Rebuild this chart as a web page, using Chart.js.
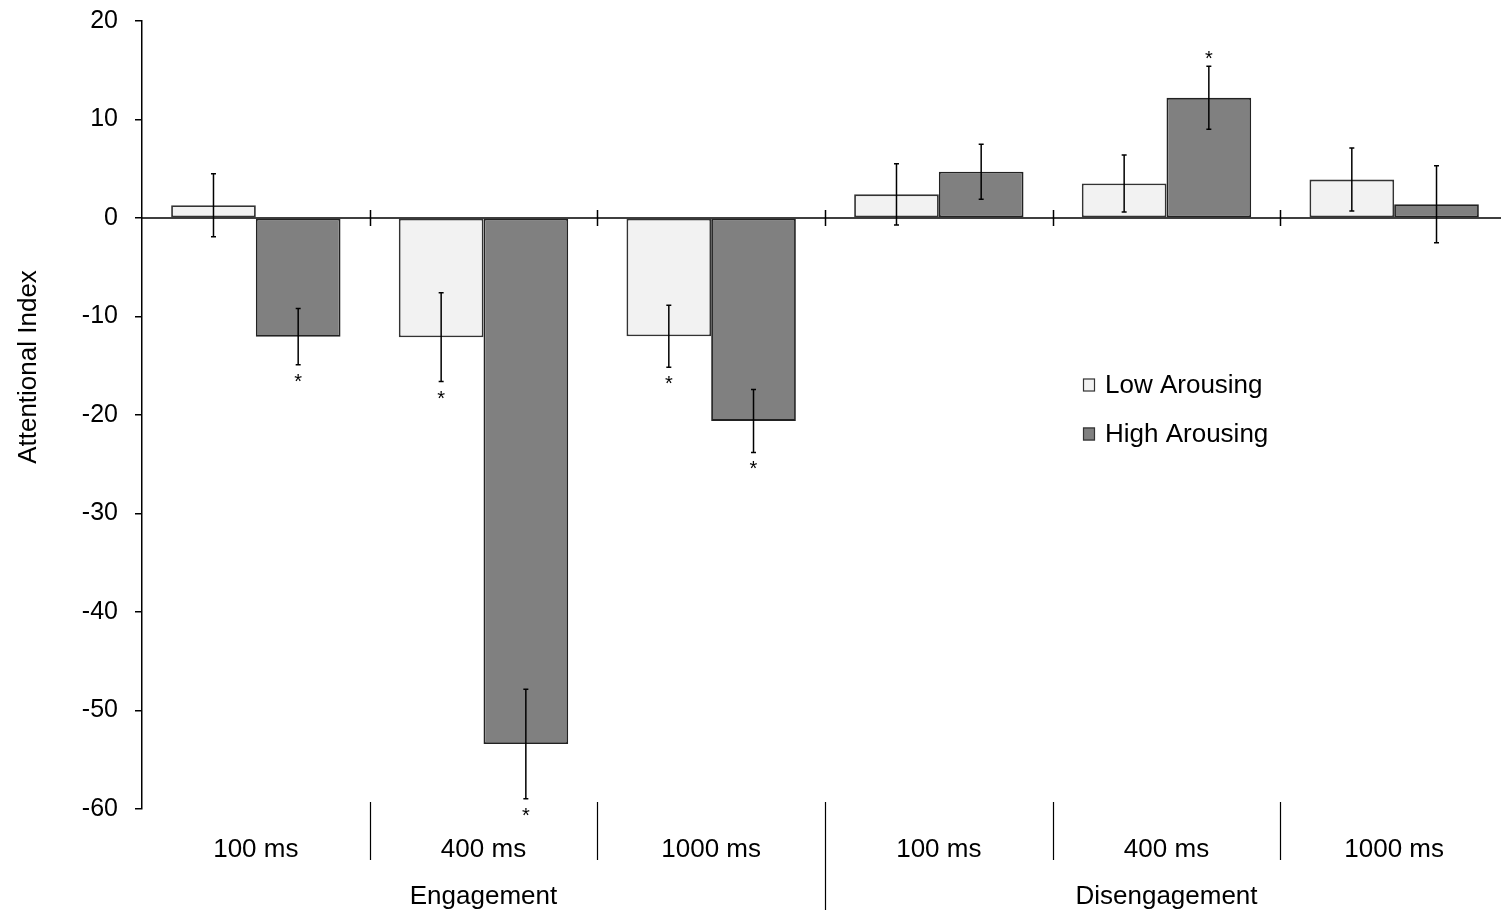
<!DOCTYPE html>
<html>
<head>
<meta charset="utf-8">
<title>Attentional Index</title>
<script src="https://cdn.jsdelivr.net/npm/chart.js@4/dist/chart.umd.min.js"></script>
<style>
    html, body { margin: 0; padding: 0; background: #fff; overflow: hidden; }
    canvas { display: block; }
</style>
</head>
<body>
<canvas id="attentionChart" width="1510" height="914"></canvas>
<script>
// Data
const soaLabels = ['100 ms', '400 ms', '1000 ms', '100 ms', '400 ms', '1000 ms'];
const sectionLabels = ['Engagement', 'Disengagement'];
const yTicks = [20, 10, 0, -10, -20, -30, -40, -50, -60];

const lowArousing = [1.3, -12.1, -12.0, 2.4, 3.5, 3.9];
const lowArousingErr = [3.2, 4.5, 3.15, 3.1, 2.9, 3.2];
const lowArousingSig = [false, true, true, false, false, false];

const highArousing = [-12.05, -53.4, -20.6, 4.7, 12.2, 1.4];
const highArousingErr = [2.85, 5.55, 3.2, 2.8, 3.2, 3.9];
const highArousingSig = [true, true, true, false, true, false];

const FONT = '"Liberation Sans", Arial, sans-serif';

const errors = [lowArousingErr, highArousingErr];
const signif = [lowArousingSig, highArousingSig];

// error bars + significance stars
const errorBarPlugin = {
    id: 'errorBars',
    afterDatasetsDraw(chart) {
        const { ctx, scales: { y } } = chart;
        ctx.save();
        chart.data.datasets.forEach((ds, di) => {
            const meta = chart.getDatasetMeta(di);
            meta.data.forEach((bar, i) => {
                const v = ds.data[i];
                const e = errors[di][i];
                const yTop = y.getPixelForValue(v + e);
                const yBot = y.getPixelForValue(v - e);
                ctx.strokeStyle = '#000';
                ctx.lineWidth = 1.5;
                ctx.beginPath();
                ctx.moveTo(bar.x, yTop);
                ctx.lineTo(bar.x, yBot);
                ctx.moveTo(bar.x - 2.5, yTop);
                ctx.lineTo(bar.x + 2.5, yTop);
                ctx.moveTo(bar.x - 2.5, yBot);
                ctx.lineTo(bar.x + 2.5, yBot);
                ctx.stroke();

                if (signif[di][i]) {
                    // the asterisk glyph sits ~11px above the baseline at 20px
                    ctx.fillStyle = '#000';
                    ctx.font = '20px ' + FONT;
                    ctx.textAlign = 'center';
                    ctx.textBaseline = 'alphabetic';
                    const sy = v < 0 ? yBot + 12 : yTop - 12;
                    ctx.fillText('*', bar.x, sy + 11);
                }
            });
        });
        ctx.restore();
    }
};

// zero line, category dividers, section labels, axis title, legend
const decorPlugin = {
    id: 'decor',
    afterDatasetsDraw(chart) {
        const { ctx, chartArea, scales: { y } } = chart;
        const y0 = y.getPixelForValue(0);
        const n = soaLabels.length;
        const step = (chartArea.right - chartArea.left) / n;

        ctx.save();
        ctx.strokeStyle = '#000';
        ctx.lineWidth = 1.5;
        ctx.beginPath();
        ctx.moveTo(chartArea.left, y0);
        ctx.lineTo(chartArea.right + 10, y0);
        for (let i = 1; i < n; i++) {
            const bx = Math.round(chartArea.left + step * i) + 0.5;
            ctx.moveTo(bx, y0 - 8);
            ctx.lineTo(bx, y0 + 8);
        }
        ctx.stroke();

        // dividers under the axis labels
        ctx.lineWidth = 1.2;
        ctx.beginPath();
        for (let i = 1; i < n; i++) {
            const bx = Math.round(chartArea.left + step * i) + 0.5;
            ctx.moveTo(bx, chartArea.bottom - 7);
            ctx.lineTo(bx, i === n / 2 ? 910 : 860);
        }
        ctx.stroke();

        ctx.fillStyle = '#000';
        ctx.font = '26px ' + FONT;
        ctx.textAlign = 'center';
        ctx.textBaseline = 'middle';
        sectionLabels.forEach((lbl, s) => {
            const cx = chartArea.left + step * (n / 2) * (s + 0.5);
            ctx.fillText(lbl, cx, 897);
        });

        // y axis title
        ctx.save();
        ctx.translate(29, 367);
        ctx.rotate(-Math.PI / 2);
        ctx.fillText('Attentional Index', 0, 0);
        ctx.restore();

        // legend
        ctx.textAlign = 'left';
        chart.data.datasets.forEach((ds, i) => {
            const ly = 385 + i * 49;
            ctx.fillStyle = ds.backgroundColor;
            ctx.fillRect(1083, ly - 6.5, 12, 13);
            ctx.strokeStyle = '#333';
            ctx.lineWidth = 1.2;
            ctx.strokeRect(1083.5, ly - 6, 11, 12);
            ctx.fillStyle = '#000';
            ctx.fillText(ds.label, 1105, ly + 1);
        });
        ctx.restore();
    }
};

new Chart(document.getElementById('attentionChart'), {
    type: 'bar',
    data: {
        labels: soaLabels,
        datasets: [
            {
                label: 'Low Arousing',
                data: lowArousing,
                backgroundColor: '#F2F2F2',
                borderColor: '#333333',
                borderWidth: 1.8,
                borderSkipped: false
            },
            {
                label: 'High Arousing',
                data: highArousing,
                backgroundColor: '#808080',
                borderColor: '#222222',
                borderWidth: 1.8,
                borderSkipped: false
            }
        ]
    },
    options: {
        responsive: false,
        animation: false,
        devicePixelRatio: 1,
        layout: { padding: { top: 21, right: 2, left: 0, bottom: 0 } },
        datasets: { bar: { categoryPercentage: 0.744, barPercentage: 1 } },
        plugins: {
            legend: { display: false },
            tooltip: { enabled: false }
        },
        scales: {
            x: {
                grid: { display: false, drawTicks: false },
                border: { display: false },
                ticks: {
                    color: '#000',
                    padding: 25,
                    maxRotation: 0,
                    font: { family: FONT, size: 26 }
                },
                afterFit(scale) { scale.height = 105; }
            },
            y: {
                min: -60,
                max: 20,
                afterBuildTicks(scale) { scale.ticks = yTicks.map(v => ({ value: v })); },
                grid: { drawOnChartArea: false, drawTicks: true, tickLength: 7, color: '#000', lineWidth: 1.5 },
                border: { display: true, color: '#000', width: 1.5 },
                ticks: {
                    color: '#000',
                    padding: 17,
                    font: { family: FONT, size: 25 }
                },
                afterFit(scale) {
                    scale.width = 142;
                    scale.paddingTop = 0;
                    scale.paddingBottom = 0;
                }
            }
        }
    },
    plugins: [errorBarPlugin, decorPlugin]
});
</script>
</body>
</html>
